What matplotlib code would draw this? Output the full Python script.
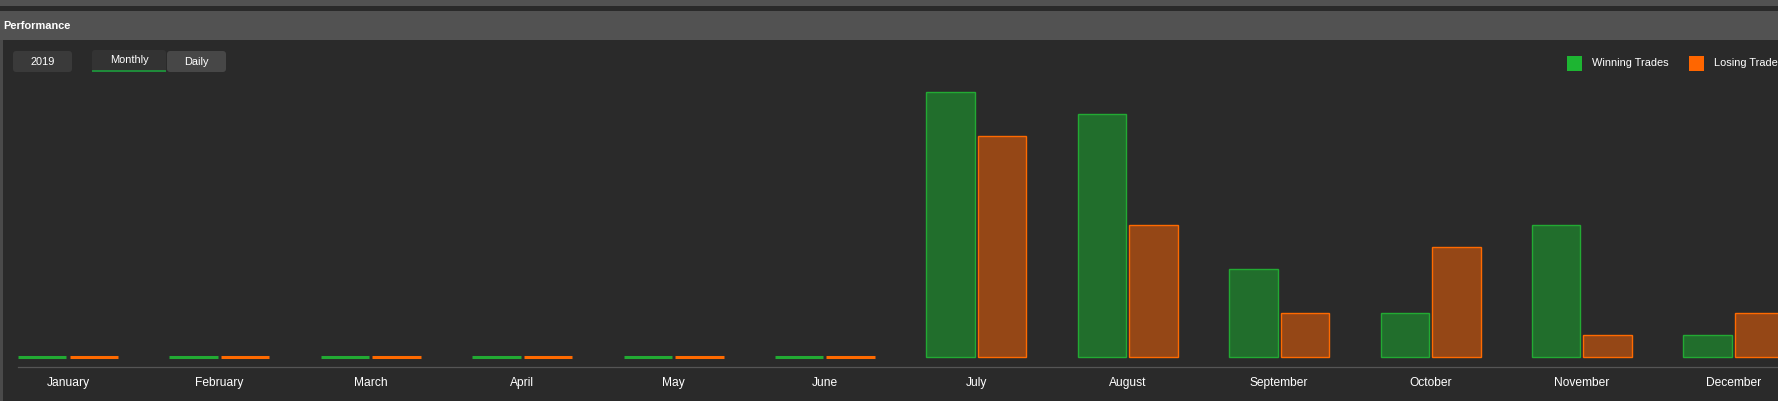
import numpy as np
import matplotlib
matplotlib.use("Agg")
import matplotlib.pyplot as plt
from matplotlib.patches import Rectangle, FancyBboxPatch
from matplotlib.transforms import IdentityTransform

months = ["January", "February", "March", "April", "May", "June",
          "July", "August", "September", "October", "November", "December"]
winning = [0, 0, 0, 0, 0, 0, 12, 11, 4, 2, 6, 1]
losing = [0, 0, 0, 0, 0, 0, 10, 6, 2, 5, 1, 2]
series_names = ["Winning Trades", "Losing Trades"]

W, H = 1778, 401
plt.rcParams['font.family'] = ['Liberation Sans', 'DejaVu Sans']

BG = "#2a2a2a"
PANEL = "#525252"
fig = plt.figure(figsize=(W / 100, H / 100), dpi=100, facecolor=BG)


def px_rect(x0, y0, x1, y1, color, rounding=0, **kw):
    # pixel coords measured from the top-left corner
    if rounding:
        p = FancyBboxPatch((x0, H - y1), x1 - x0, y1 - y0,
                           boxstyle="round,pad=0,rounding_size=%d" % rounding,
                           transform=IdentityTransform(), facecolor=color,
                           edgecolor="none", **kw)
    else:
        p = Rectangle((x0, H - y1), x1 - x0, y1 - y0, transform=IdentityTransform(),
                      facecolor=color, edgecolor="none", **kw)
    fig.patches.append(p)


def px_text(x, y, s, **kw):
    fig.text(x / W, 1 - y / H, s, color="white", **kw)


# page chrome
px_rect(0, 0, W, 6, PANEL)
px_rect(0, 11, W, 40, PANEL)
px_rect(0, 40, 3, H, "#4a4a4a")
px_text(3, 26, "Performance", fontsize=7.9, fontweight="bold", va="center")

# buttons
px_rect(13, 51, 72, 72, "#3a3a3a", rounding=3)
px_text(42.5, 62, "2019", fontsize=7.9, ha="center", va="center")
px_rect(92, 50, 166, 72, "#333333", rounding=3)
px_rect(92, 70, 166, 71.5, "#1f8a3a")
px_text(129, 60, "Monthly", fontsize=7.9, ha="center", va="center")
px_rect(167, 51, 226, 72, "#474747", rounding=3)
px_text(196.5, 62, "Daily", fontsize=7.9, ha="center", va="center")

# legend (the last entry runs off the right edge, as in the source)
px_rect(1567, 56, 1582, 71, "#1db532")
px_text(1592, 63.5, series_names[0], fontsize=7.9, va="center")
px_rect(1689, 56, 1704, 71, "#ff6600")
px_text(1714, 63.5, series_names[1], fontsize=7.9, va="center")

# chart
ax = fig.add_axes([18 / W, (H - 367) / H, 1 - 18 / W, (367 - 80) / H])
ax.set_facecolor("none")
x = np.arange(len(months))
off, bw = 0.17, 0.32
lw_w = [2.2 if v == 0 else 1.0 for v in winning]
lw_l = [2.2 if v == 0 else 1.0 for v in losing]
ax.bar(x - off, winning, bw, color="#216e2c", edgecolor="#22aa33", linewidth=lw_w)
ax.bar(x + off, losing, bw, color="#954716", edgecolor="#ff6a00", linewidth=lw_l)

ax.set_xlim(-0.3303, 11.295)
ax.set_ylim(-0.432, 12.55)
ax.set_yticks([])
ax.set_xticks(x)
ax.set_xticklabels(months, color="white", fontsize=8.64)
ax.tick_params(axis="x", length=0, pad=7.5)
for s in ["left", "top", "right"]:
    ax.spines[s].set_visible(False)
ax.spines["bottom"].set_color("#555555")
ax.spines["bottom"].set_linewidth(0.9)

fig.savefig("out.png", dpi=100, facecolor=BG)
